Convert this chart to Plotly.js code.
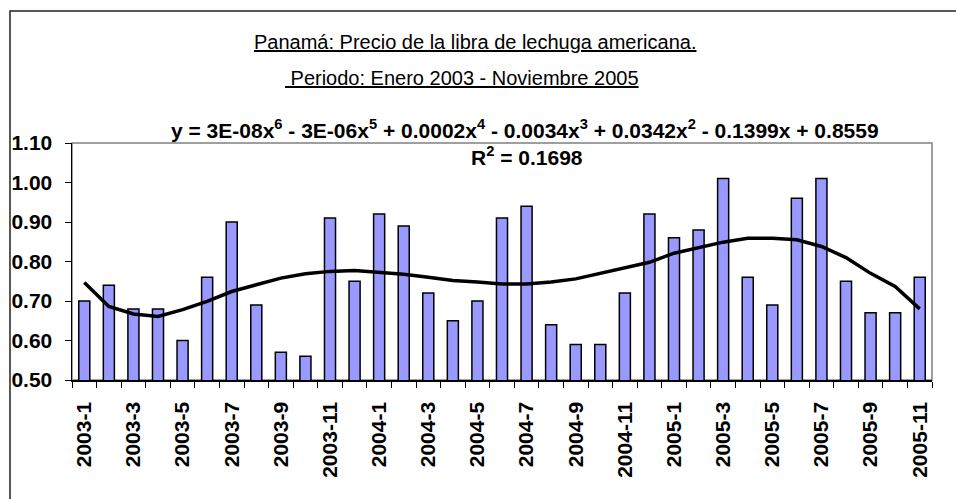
<!DOCTYPE html>
<html>
<head>
<meta charset="utf-8">
<script src="https://cdn.plot.ly/plotly-3.0.1.min.js"></script>
<style>html,body{margin:0;padding:0;background:#fff;}#chart{width:956px;height:499px;}</style>
</head>
<body>
<div id="chart"></div>
<script>
const categories = ['2003-1','2003-2','2003-3','2003-4','2003-5','2003-6','2003-7','2003-8','2003-9','2003-10','2003-11','2003-12',
  '2004-1','2004-2','2004-3','2004-4','2004-5','2004-6','2004-7','2004-8','2004-9','2004-10','2004-11','2004-12',
  '2005-1','2005-2','2005-3','2005-4','2005-5','2005-6','2005-7','2005-8','2005-9','2005-10','2005-11'];
const prices = [0.70,0.74,0.68,0.68,0.60,0.76,0.90,0.69,0.57,0.56,0.91,0.75,
  0.92,0.89,0.72,0.65,0.70,0.91,0.94,0.64,0.59,0.59,0.72,0.92,
  0.86,0.88,1.01,0.76,0.69,0.96,1.01,0.75,0.67,0.67,0.76];
const trend = [0.747,0.686,0.667,0.661,0.678,0.699,0.724,0.741,0.758,0.769,0.775,0.777,
  0.772,0.768,0.760,0.752,0.748,0.743,0.743,0.748,0.756,0.770,0.784,0.798,
  0.821,0.834,0.849,0.859,0.859,0.855,0.838,0.810,0.770,0.737,0.680];
const yTicks = [0.50,0.60,0.70,0.80,0.90,1.00,1.10];

const idx = categories.map((c,i)=>i+1);
const labelIdx = idx.filter((v,i)=>i%2===0);
const labelText = categories.filter((v,i)=>i%2===0);

const W=956,H=499,L=72,R=24,T=143,B=119;
const PW=W-L-R, PH=H-T-B;
const px=(x)=>(x-L)/PW;
const py=(y)=>(H-B-y)/PH;

const FONT='Liberation Sans, Arial, sans-serif';

const data = [
  {type:'bar', x:idx, y:prices, marker:{color:'#9999FF', line:{color:'#000', width:1.5}}, hoverinfo:'skip'},
  {type:'scatter', mode:'lines', x:idx, y:trend, line:{color:'#000', width:3.5}, hoverinfo:'skip'}
];

const layout = {
  width:W, height:H,
  margin:{l:L, r:R, t:T, b:B, pad:0},
  paper_bgcolor:'#fff', plot_bgcolor:'#fff',
  showlegend:false,
  bargap:0.55,
  font:{family:FONT, color:'#000'},
  xaxis:{
    range:[0.5,35.5], tickvals:labelIdx, ticktext:labelText, tickangle:-90,
    ticks:'', showgrid:false, zeroline:false,
    showline:true, linecolor:'#000', linewidth:1.5,
    tickfont:{family:FONT, size:21, weight:'bold', color:'#000'},
    ticklabelstandoff:12,
    minor:{tick0:0.5, dtick:1, ticks:'outside', ticklen:6, tickcolor:'#000', tickwidth:1, showgrid:false},
    fixedrange:true
  },
  yaxis:{
    range:[0.5,1.10], tickvals:yTicks, tickformat:'.2f',
    ticks:'outside', ticklen:6, tickcolor:'#000', tickwidth:1,
    showgrid:false, zeroline:false,
    showline:true, linecolor:'#000', linewidth:1.5,
    tickfont:{family:FONT, size:21, weight:'bold', color:'#000'},
    ticklabelstandoff:8,
    fixedrange:true
  },
  shapes:[
    {type:'rect', xref:'paper', yref:'paper', x0:0, x1:1, y0:0, y1:1, line:{color:'#808080', width:1.5}, layer:'below'},
    {type:'rect', xref:'paper', yref:'paper', x0:px(10), x1:px(1000), y0:py(540), y1:py(11), line:{color:'#222', width:1.5}, layer:'below'}
  ],
  annotations:[
    {xref:'paper', yref:'paper', x:px(475), y:py(42), text:'<u>Panamá: Precio de la libra de lechuga americana.</u>', showarrow:false, xanchor:'center', yanchor:'middle', font:{family:FONT, size:20, color:'#000'}},
    {xref:'paper', yref:'paper', x:px(462), y:py(78), text:'<u> Periodo: Enero 2003 - Noviembre 2005</u>', showarrow:false, xanchor:'center', yanchor:'middle', font:{family:FONT, size:20, color:'#000'}},
    {xref:'paper', yref:'paper', x:px(525), y:py(129), text:'<b>y = 3E-08x<sup>6</sup> - 3E-06x<sup>5</sup> + 0.0002x<sup>4</sup> - 0.0034x<sup>3</sup> + 0.0342x<sup>2</sup> - 0.1399x + 0.8559</b>', showarrow:false, xanchor:'center', yanchor:'middle', font:{family:FONT, size:21, color:'#000'}},
    {xref:'paper', yref:'paper', x:px(527), y:py(156), text:'<b>R<sup>2</sup> = 0.1698</b>', showarrow:false, xanchor:'center', yanchor:'middle', font:{family:FONT, size:21, color:'#000'}}
  ]
};

Plotly.newPlot('chart', data, layout, {displayModeBar:false, staticPlot:true});
</script>
</body>
</html>
